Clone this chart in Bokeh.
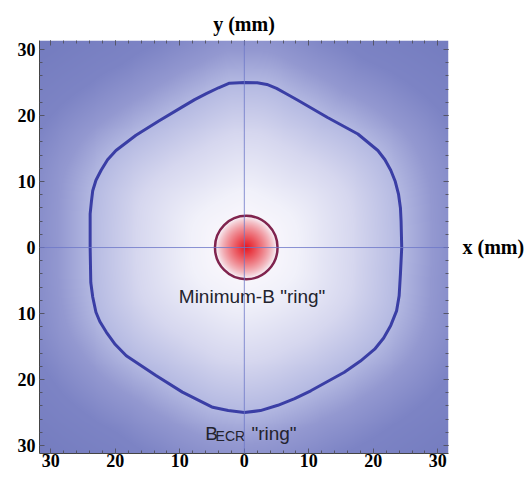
import numpy as np
from bokeh.plotting import figure
from bokeh.models import Range1d, FixedTicker, LinearAxis, Span
from bokeh.core.properties import value
from bokeh.embed import file_html
from bokeh.resources import INLINE

# ---- data (mm) ----
tick_values = [-30, -20, -10, 0, 10, 20, 30]
tick_labels = ["30", "20", "10", "0", "10", "20", "30"]
minor_values = list(range(-30, 31, 2))

becr_x = [0, 2.0, 3.5, 5.0, 6.5, 8.3, 12.9, 17.6, 20.7, 21.8, 22.7, 23.4, 23.9, 24.2, 24.3,
          24.4, 24.2, 24.0, 23.6, 22.7, 21.6, 20.2, 18.0, 15.5, 10.3, 7.8, 5.2, 2.5, 0,
          -2.5, -4.9, -9.6, -13.7, -18.3, -20.0, -21.4, -22.4, -23.0, -23.5, -23.8, -23.9,
          -23.9, -23.7, -23.5, -23.0, -22.2, -21.2, -19.9, -16.8, -13.2, -9.6, -7.7, -5.9,
          -4.0, -2.3, 0]
becr_y = [25.0, 24.95, 24.7, 24.1, 23.3, 22.3, 19.7, 17.2, 14.7, 13.3, 11.7, 10.0, 8.1, 6.0, 4.0,
          0.0, -4.0, -7.3, -9.6, -11.8, -13.7, -15.4, -17.2, -18.9, -21.7, -22.9, -23.9, -24.7, -25.0,
          -24.7, -24.2, -21.9, -19.4, -16.4, -14.7, -12.8, -11.2, -9.8, -7.5, -5.3, 0.0,
          5.1, 7.0, 8.6, 10.2, 11.7, 13.3, 14.7, 17.0, 19.2, 21.3, 22.4, 23.3,
          24.2, 24.9, 25.0]

minb_x = [0.3]
minb_y = [0.0]
minb_w = [9.7]
minb_h = [9.6]

# background colour stops: normalised radius (r / BECR radius) -> colour
stop_s = [0.0, 0.2, 0.35, 0.7, 1.0, 1.2, 1.45, 1.8, 3.0]
stop_r = [250, 248, 241, 214, 180, 148, 125, 117, 115]
stop_g = [248, 246, 241, 215, 185, 153, 132, 125, 123]
stop_b = [253, 252, 250, 239, 226, 209, 197, 192, 191]
red_rgb = (230, 20, 30)
red_radius = 4.7

X0, X1 = -31.75, 31.65
Y0, Y1 = -31.2, 31.36

# ---- background field image ----
n = 420
xs = np.linspace(X0, X1, n)
ys = np.linspace(Y0, Y1, n)
XX, YY = np.meshgrid(xs, ys)
bx = np.array(becr_x[:-1]); by = np.array(becr_y[:-1])
ang = np.arctan2(by, bx); rad = np.hypot(bx, by)
order = np.argsort(ang)
theta = np.arctan2(YY, XX)
R = np.interp(theta, ang[order], rad[order], period=2 * np.pi)
s = np.hypot(XX, YY) / R
cr = np.interp(s, stop_s, stop_r)
cg = np.interp(s, stop_s, stop_g)
cb = np.interp(s, stop_s, stop_b)
rr = np.hypot(XX - minb_x[0], YY - minb_y[0])
a = np.clip(1 - rr / red_radius, 0, 1) ** 0.8
cr = cr * (1 - a) + red_rgb[0] * a
cg = cg * (1 - a) + red_rgb[1] * a
cb = cb * (1 - a) + red_rgb[2] * a
img = np.empty((n, n), dtype=np.uint32)
view = img.view(dtype=np.uint8).reshape((n, n, 4))
view[:, :, 0] = cr.astype(np.uint8)
view[:, :, 1] = cg.astype(np.uint8)
view[:, :, 2] = cb.astype(np.uint8)
view[:, :, 3] = 255

p = figure(width=526, height=471, output_backend="svg", toolbar_location=None,
           x_range=Range1d(X0, X1), y_range=Range1d(Y0, Y1),
           min_border_left=39, min_border_top=40, min_border_right=78, min_border_bottom=18,
           x_axis_location=None, y_axis_location=None)
p.frame_width = 409
p.frame_height = 413
p.grid.visible = False
p.outline_line_color = None
p.background_fill_color = "white"

p.image_rgba(image=[img], x=X0, y=Y0, dw=X1 - X0, dh=Y1 - Y0)

p.add_layout(Span(location=0, dimension="width", line_color=(110, 120, 200), line_width=1, line_alpha=0.8))
p.add_layout(Span(location=0, dimension="height", line_color=(110, 120, 200), line_width=1, line_alpha=0.8))

p.line(becr_x, becr_y, line_color=(58, 62, 165), line_width=3, line_join="round")
p.ellipse(x=minb_x, y=minb_y, width=minb_w, height=minb_h, fill_color=None,
          line_color=(128, 36, 78), line_width=2.5)

lab_font = value("Liberation Sans")
p.text(x=[1.2], y=[-7.4], text=['Minimum-B "ring"'], text_font=lab_font,
       text_font_size="19px", text_align="center", text_baseline="alphabetic",
       text_color=(35, 35, 45))
p.text(x=[-6.05], y=[-28.1], text=["B"], text_font=lab_font, text_font_size="19px",
       text_align="left", text_baseline="alphabetic", text_color=(35, 35, 45))
p.text(x=[-4.45], y=[-28.55], text=["ECR"], text_font=lab_font, text_font_size="14px",
       text_align="left", text_baseline="alphabetic", text_color=(35, 35, 45))
p.text(x=[1.1], y=[-28.1], text=['"ring"'], text_font=lab_font, text_font_size="19px",
       text_align="left", text_baseline="alphabetic", text_color=(35, 35, 45))

def make_axis(show_labels, line, label=None, standoff=0):
    ax = LinearAxis(ticker=FixedTicker(ticks=tick_values, minor_ticks=minor_values))
    ax.major_tick_in = 5
    ax.major_tick_out = 0
    ax.minor_tick_in = 3
    ax.minor_tick_out = 0
    ax.major_tick_line_color = "#555566"
    ax.minor_tick_line_color = "#555566"
    ax.axis_line_color = "#444444" if line else None
    if show_labels:
        ax.major_label_overrides = {v: t for v, t in zip(tick_values, tick_labels)}
    else:
        ax.major_label_overrides = {v: "" for v in tick_values}
    ax.major_label_standoff = standoff
    ax.major_label_text_font = "Liberation Serif"
    ax.major_label_text_font_style = "bold"
    ax.major_label_text_font_size = "18px"
    ax.major_label_text_color = "black"
    if label:
        ax.axis_label = label
        ax.axis_label_text_font = "Liberation Serif"
        ax.axis_label_text_font_style = "bold"
        ax.axis_label_text_font_size = "20px"
        ax.axis_label_text_color = "black"
    return ax

p.add_layout(make_axis(True, True, standoff=4), "left")
p.add_layout(make_axis(True, True), "below")
top_ax = make_axis(False, False, "y (mm)")
top_ax.axis_label_standoff = 6
p.add_layout(top_ax, "above")
right_ax = make_axis(False, False, "x (mm)")
right_ax.axis_label_orientation = "horizontal"
right_ax.axis_label_standoff = 14
p.add_layout(right_ax, "right")

open("out.html", "w").write(file_html(p, INLINE))
